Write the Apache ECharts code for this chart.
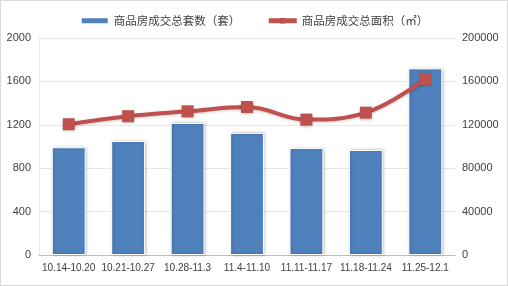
<!DOCTYPE html>
<html><head><meta charset="utf-8">
<script src="https://cdn.jsdelivr.net/npm/echarts@6/dist/echarts.min.js"></script>
<style>html,body{margin:0;padding:0;background:#fff}#c{width:508px;height:286px;box-sizing:border-box;border:1px solid #d9d9d9}</style>
</head><body><div id="c"></div>
<script>
const categories = ['10.14-10.20','10.21-10.27','10.28-11.3','11.4-11.10','11.11-11.17','11.18-11.24','11.25-12.1'];
const unitsSold = [993, 1050, 1217, 1126, 986, 968, 1720];
const areaSold = [120500, 127900, 132400, 136400, 124800, 131200, 162300];
const leftTicks = [0, 400, 800, 1200, 1600, 2000];
const rightTicks = [0, 40000, 80000, 120000, 160000, 200000];
const seriesNames = ['商品房成交总套数（套）', '商品房成交总面积（㎡）'];

const chart = echarts.init(document.getElementById('c'), null, {renderer:'canvas'});
const font = '"Noto Sans CJK SC", "Microsoft YaHei", sans-serif';
const numFont = 'Liberation Sans, Arial, sans-serif';
chart.setOption({
  animation: false,
  textStyle: {fontFamily: font},
  legend: {
    top: 9, left: 'center', itemGap: 26, itemWidth: 28, itemHeight: 7,
    textStyle: {fontSize: 11.5, color: '#404040', fontFamily: font},
    data: [
      {name: seriesNames[0], icon: 'rect'},
      {name: seriesNames[1], lineStyle: {width: 5}, itemStyle: {}}
    ]
  },
  grid: {left: 38, right: 52, top: 37, bottom: 30, containLabel: false},
  xAxis: {
    type: 'category', data: categories,
    axisLine: {lineStyle: {color: '#bfbfbf', width: 1}},
    axisTick: {show: false},
    axisLabel: {color: '#404040', fontSize: 10, margin: 8, interval: 0, fontFamily: numFont}
  },
  yAxis: [
    {type: 'value', min: leftTicks[0], max: leftTicks[leftTicks.length-1], interval: leftTicks[1]-leftTicks[0],
     axisLine: {show: true, lineStyle: {color: '#ececec'}}, axisTick: {show: false},
     splitLine: {lineStyle: {color: '#e8e8e8'}},
     axisLabel: {color: '#404040', fontSize: 11, margin: 8, fontFamily: numFont, formatter: v => String(v)}},
    {type: 'value', min: rightTicks[0], max: rightTicks[rightTicks.length-1], interval: rightTicks[1]-rightTicks[0],
     axisLine: {show: false}, axisTick: {show: false}, splitLine: {show: false},
     axisLabel: {color: '#404040', fontSize: 11, margin: 7, fontFamily: numFont, formatter: v => String(v)}}
  ],
  series: [
    {name: seriesNames[0], type: 'bar', data: unitsSold, barWidth: '57%', yAxisIndex: 0,
     itemStyle: {color: '#4f81bd', borderColor: '#ffffff', borderWidth: 1, shadowColor: 'rgba(0,0,0,0.25)', shadowBlur: 3, shadowOffsetX: 1}},
    {name: seriesNames[1], type: 'line', data: areaSold, yAxisIndex: 1, smooth: 0.4,
     symbol: 'rect', symbolSize: 12,
     lineStyle: {color: '#c0504d', width: 4, shadowColor: 'rgba(0,0,0,0.2)', shadowBlur: 3, shadowOffsetY: 1},
     itemStyle: {color: '#c0504d', shadowColor: 'rgba(0,0,0,0.3)', shadowBlur: 3, shadowOffsetY: 1}}
  ]
});
</script></body></html>
